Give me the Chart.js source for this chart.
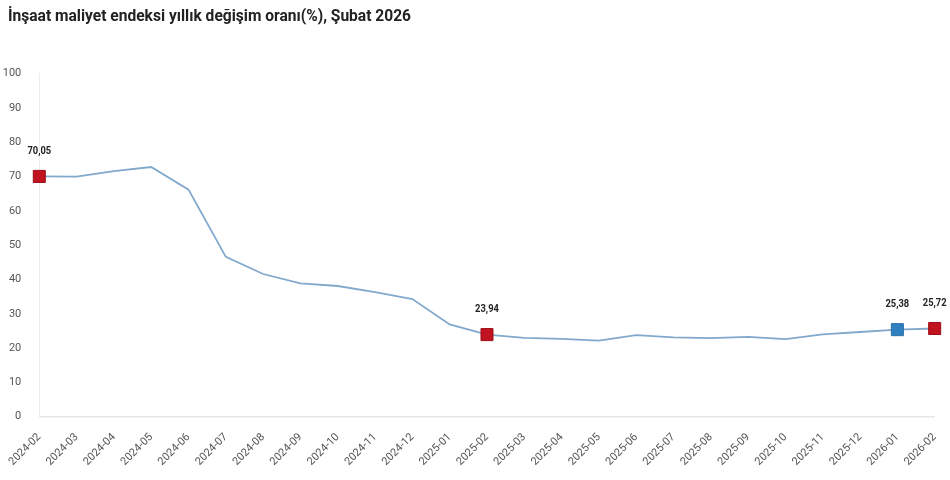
<!DOCTYPE html>
<html>
<head>
<meta charset="utf-8">
<script src="https://cdn.jsdelivr.net/npm/chart.js@4.4.1/dist/chart.umd.min.js"></script>
<style>
  html, body { margin: 0; padding: 0; background: #ffffff; }
  #wrap { width: 950px; height: 480px; }
</style>
</head>
<body>
<div id="wrap"><canvas id="c" width="950" height="480"></canvas></div>
<script>
const categories = ["2024-02","2024-03","2024-04","2024-05","2024-06","2024-07","2024-08","2024-09","2024-10","2024-11","2024-12","2025-01","2025-02","2025-03","2025-04","2025-05","2025-06","2025-07","2025-08","2025-09","2025-10","2025-11","2025-12","2026-01","2026-02"];
const values = [70.05, 70.0, 71.6, 72.8, 66.2, 46.6, 41.6, 38.9, 38.1, 36.3, 34.3, 26.9, 23.94, 23.0, 22.7, 22.2, 23.8, 23.1, 22.9, 23.3, 22.6, 24.0, 24.7, 25.38, 25.72];
const highlightIdx = [0, 12, 23, 24];
const highlightColors = ["#c0121f", "#c0121f", "#2f7fc1", "#c0121f"];
const yTicks = [0, 10, 20, 30, 40, 50, 60, 70, 80, 90, 100];
const titleText = "İnşaat maliyet endeksi yıllık değişim oranı(%), Şubat 2026";

const FONT = "'Roboto', 'Liberation Sans', sans-serif";

const pointRadius = values.map((v, i) => highlightIdx.includes(i) ? 8.5 : 0);
const pointColors = values.map((v, i) => {
  const k = highlightIdx.indexOf(i);
  return k >= 0 ? highlightColors[k] : "#7ea6c9";
});
const pointBorders = pointColors.map(c => c === "#2f7fc1" ? "#2a6fa8" : (c === "#c0121f" ? "#9e0e19" : c));

const labelPlugin = {
  id: 'valueLabels',
  afterDatasetsDraw(chart) {
    const ctx = chart.ctx;
    const meta = chart.getDatasetMeta(0);
    ctx.save();
    ctx.font = "bold 11px " + FONT;
    ctx.fillStyle = "#222222";
    ctx.textAlign = "center";
    ctx.textBaseline = "middle";
    highlightIdx.forEach(i => {
      const el = meta.data[i];
      const txt = values[i].toFixed(2).replace('.', ',');
      ctx.save();
      ctx.translate(el.x, el.y - 25);
      ctx.scale(0.85, 1);
      ctx.fillText(txt, 0, 0);
      ctx.restore();
    });
    ctx.restore();
  }
};

const titlePlugin = {
  id: 'narrowTitle',
  afterDraw(chart) {
    const ctx = chart.ctx;
    ctx.save();
    ctx.font = "bold 17px " + FONT;
    ctx.fillStyle = "#222222";
    ctx.textAlign = "left";
    ctx.textBaseline = "middle";
    ctx.translate(8, 17);
    ctx.scale(0.915, 1);
    ctx.fillText(titleText, 0, 0);
    ctx.restore();
  }
};

new Chart(document.getElementById('c'), {
  type: 'line',
  data: {
    labels: categories,
    datasets: [{
      data: values,
      borderColor: "#82a9cc",
      borderWidth: 1.8,
      tension: 0,
      pointStyle: 'rect',
      pointRadius: pointRadius,
      pointHoverRadius: pointRadius,
      pointBackgroundColor: pointColors,
      pointBorderColor: pointBorders,
      pointBorderWidth: 1,
      clip: false
    }]
  },
  options: {
    responsive: false,
    animation: false,
    events: [],
    layout: { padding: { left: 0, right: 15, top: 73.7, bottom: 0 } },
    plugins: {
      legend: { display: false },
      tooltip: { enabled: false },
      title: { display: false }
    },
    scales: {
      x: {
        offset: false,
        grid: { display: false },
        border: { display: true, color: "#e6e6e6", width: 1.5 },
        ticks: {
          color: "#555555",
          font: { family: FONT, size: 11 },
          maxRotation: 45,
          minRotation: 45,
          autoSkip: false,
          padding: 6
        },
        afterFit(scale) { scale.height = 63.3; }
      },
      y: {
        min: 0,
        max: 100,
        afterBuildTicks(scale) { scale.ticks = yTicks.map(v => ({ value: v })); },
        grid: { display: false },
        border: { display: true, color: "#ececec", width: 1 },
        ticks: {
          color: "#555555",
          font: { family: FONT, size: 11 },
          padding: 10
        },
        afterFit(scale) { scale.width = 39.3; }
      }
    }
  },
  plugins: [labelPlugin, titlePlugin]
});
</script>
</body>
</html>
